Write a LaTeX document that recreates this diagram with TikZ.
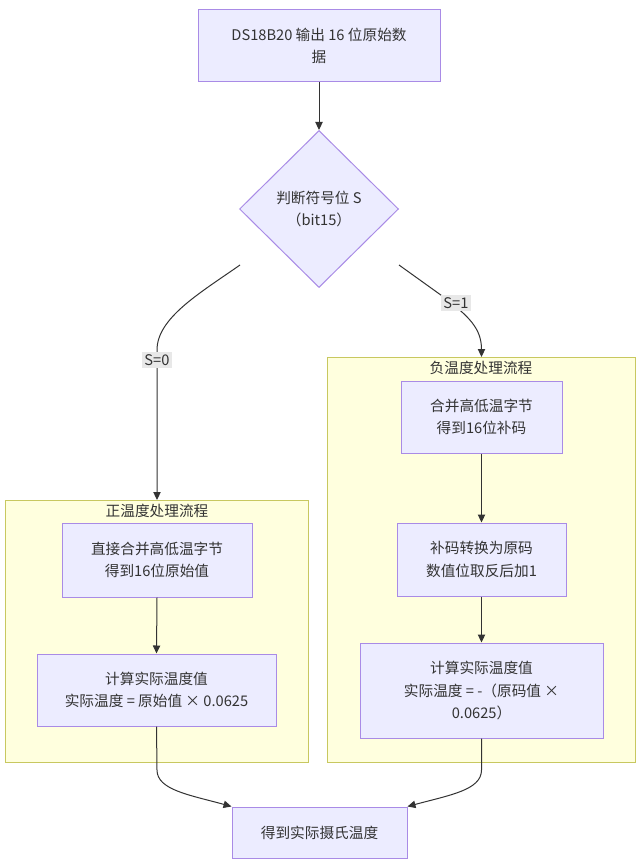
\documentclass[tikz,border=0pt]{standalone}
\usepackage{fontspec}
\setmainfont{Noto Sans CJK SC}
\usetikzlibrary{arrows.meta,shapes.geometric}
\definecolor{nodefill}{HTML}{ECECFF}
\definecolor{nodeline}{HTML}{A98BE6}
\definecolor{clfill}{HTML}{FFFFDE}
\definecolor{clline}{HTML}{C8C860}
\definecolor{edgec}{HTML}{333333}
\definecolor{txt}{HTML}{333333}
\definecolor{lblbg}{HTML}{E8E8E8}
\tikzset{
  procbox/.style={draw=nodeline, fill=nodefill, line width=0.75pt, align=center, text=txt, inner sep=0pt,
    font=\fontsize{11}{17}\selectfont},
  decbox/.style={procbox, shape=diamond, aspect=1},
  cluster/.style={draw=clline, fill=clfill, line width=0.75pt},
  cltitle/.style={text=txt, font=\fontsize{11}{14}\selectfont, inner sep=0pt},
  flow/.style={draw=edgec, line width=0.75pt, -{Triangle[length=6pt,width=5.5pt]}},
  elabel/.style={fill=lblbg, text=txt, font=\fontsize{11}{13}\selectfont, inner sep=1.5pt}
}
\begin{document}
\begin{tikzpicture}[x=0.75pt,y=-0.75pt]
\useasboundingbox[fill=white] (0,0) rectangle (641,863);
% clusters
\draw[cluster] (5,500) rectangle (308,762);
\node[cltitle] (lt) at (157,511) {正温度处理流程};
\draw[cluster] (327,357) rectangle (635,762);
\node[cltitle] (rt) at (481,368) {负温度处理流程};
% nodes
\node[procbox, minimum width=181.5pt, minimum height=54pt] (a) at (319,46) {DS18B20 输出 16 位原始数\\据};
\node[decbox, minimum width=119.25pt, minimum height=117.75pt] (d) at (319,209) {判断符号位 S\\（bit15）};
\node[procbox, minimum width=142.5pt, minimum height=55.5pt] (l1) at (157,560) {直接合并高低温字节\\得到16位原始值};
\node[procbox, minimum width=179.25pt, minimum height=54pt] (l2) at (156.5,690) {计算实际温度值\\实际温度 = 原始值 × 0.0625};
\node[procbox, minimum width=120.75pt, minimum height=54pt] (r1) at (481.5,417) {合并高低温字节\\得到16位补码};
\node[procbox, minimum width=126.75pt, minimum height=54.75pt] (r2) at (481.5,559.5) {补码转换为原码\\数值位取反后加1};
\node[procbox, minimum width=182.25pt, minimum height=71.25pt] (r3) at (481.5,690.5) {计算实际温度值\\实际温度 = -（原码值 ×\\0.0625）};
\node[procbox, minimum width=131.25pt, minimum height=38.25pt] (e) at (319.5,832.5) {得到实际摄氏温度};
% connector endpoints
\coordinate (ls) at (240,265);
\coordinate (rs) at (399,265);
\coordinate (lct) at (157,500);
\coordinate (rct) at (481.5,357);
% edges
\draw[flow] (a.south) -- (d.north);
\draw[flow] (ls) .. controls (200,293) and (157,318) .. (157,350) -- (lct);
\node[elabel] (s0) at (157,360) {S=0};
\draw[flow] (rs) -- (445,298) .. controls (468,316) and (481.5,328) .. (rct);
\node[elabel] (s1) at (456,303) {S=1};
\draw[flow] (l1.south) -- (l2.north);
\draw[flow] (r1.south) -- (r2.north);
\draw[flow] (r2.south) -- (r3.north);
\draw[flow] (l2.south) -- (157,770) .. controls (157,790) and (190,795) .. (e.north west);
\draw[flow] (r3.south) -- (481.5,770) .. controls (481.5,790) and (450,795) .. (e.north east);
\end{tikzpicture}
\end{document}
